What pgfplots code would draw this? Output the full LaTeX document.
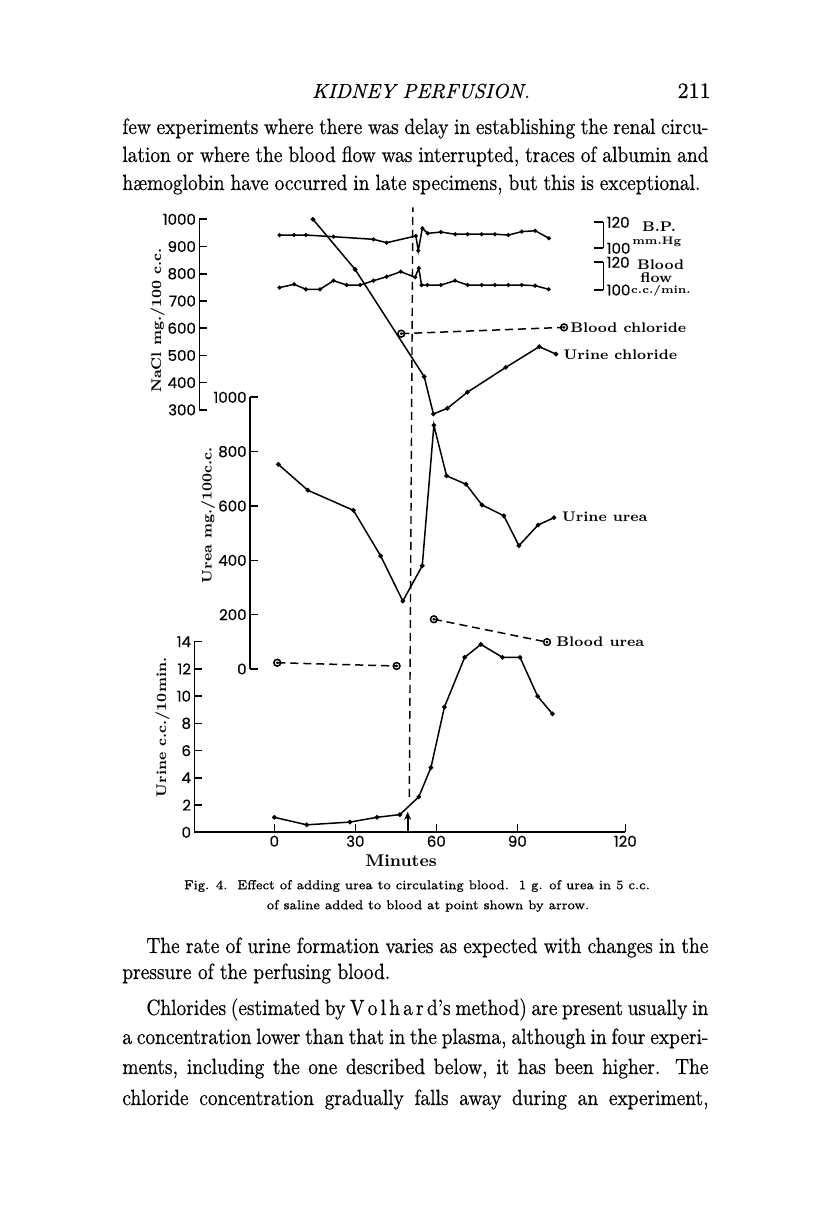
\documentclass[border=0pt]{standalone}
\usepackage{fontspec}
\usepackage{pgfplots}
\pgfplotsset{compat=1.18}
\usetikzlibrary{arrows.meta}
\newfontfamily\tickfont{Poppins}[FakeBold=0.4]
\newfontface\txt{lmroman10-regular.otf}[FakeBold=0.5]
\newfontface\txti{lmroman10-italic.otf}[FakeBold=0.4]
\newfontface\capf{lmroman7-regular.otf}[FakeBold=1]
\newcommand\lab{\bfseries\fontsize{7}{8}\selectfont}
\newcommand\body{\fontsize{11}{13}\selectfont\txt}
\newcommand\fl[2]{\scalebox{0.88}[1]{\makebox[#1][s]{#2}}}
\pgfplotsset{
  pg/.style={scale only axis, clip=false, anchor=south west,
    axis line style={line width=0.8pt},
    tick style={line width=0.8pt, black},
    major tick length=4pt, tick align=inside,
    /pgf/number format/assume math mode=true,
    /pgf/number format/1000 sep={},
    ticklabel style={font=\tickfont\fontsize{7.5}{8}\selectfont, inner sep=1.5pt}},
  yl/.style={hide x axis, axis y line*=left, ytick pos=left, yticklabel pos=left},
  yr/.style={hide x axis, axis y line*=right, ytick pos=right, yticklabel pos=right,
    major tick length=4.5pt, yticklabel style={anchor=west}},
  dat/.style={black, line width=0.75pt, mark=*, mark size=0.75pt},
  bld/.style={black, line width=0.75pt, dash pattern=on 4pt off 2.5pt,
    mark=o, mark size=1.7pt, mark options={solid}},
  ctr/.style={black, only marks, mark=*, mark size=0.45pt},
}
\begin{document}
\begin{tikzpicture}[x=0.5pt,y=0.5pt]
\useasboundingbox[fill=white] (0,0) rectangle (816,1221);

% running head and text above the figure
\node[anchor=base, inner sep=0] at (421,1221-98) {\fontsize{10.2}{12}\selectfont\txti KIDNEY PERFUSION.};
\node[anchor=base east, inner sep=0] at (711,1221-98) {\body 211};
\node[anchor=base west, inner sep=0] at (122,1221-134) {\body\fl{333pt}{few experiments where there was delay in establishing the renal circu-}};
\node[anchor=base west, inner sep=0] at (122,1221-162) {\body\fl{333pt}{lation or where the blood flow was interrupted, traces of albumin and}};
\node[anchor=base west, inner sep=0] at (122,1221-190) {\body\fl{328.4pt}{hæmoglobin have occurred in late specimens, but this is exceptional.}};

% NaCl
\begin{axis}[pg, yl, at={(99.65pt,405.55pt)}, width=213.03pt, height=95.3pt,
  xmin=-27.8, xmax=130, ymin=300, ymax=1000, ytick={300,400,...,1000}]
\addplot[dat] coordinates {(14.3,1000)(29.9,816)(55.5,422)(58.9,285)(64.1,306)
  (71.5,365)(85.7,456)(98.1,532)(104.3,505)};
\addplot[bld] coordinates {(47.0,580)(107.3,603)};
\addplot[ctr] coordinates {(47.0,580)(107.3,603)};
\end{axis}

% blood pressure
\begin{axis}[pg, yr, at={(99.65pt,486.35pt)}, width=202.03pt, height=13pt,
  xmin=-27.8, xmax=121.85, ymin=100, ymax=120, ytick={100,120}]
\addplot[dat, mark size=0.6pt] coordinates {(1.9,110.2)(7.3,110.2)(11.7,110.2)(21.9,108.9)
  (36.7,106.9)(41.6,104.3)(52.4,109.5)(53.3,98.2)(54.8,115.4)(56.8,111.5)(61.7,112.5)
  (67,110.8)(71.6,110.8)(76.8,110.8)(81.7,110.8)(86.7,110.2)(91.6,112.8)(96.6,113.5)(101.7,107.7)};
\end{axis}

% blood flow
\begin{axis}[pg, yr, at={(99.65pt,465.5pt)}, width=202.03pt, height=13.85pt,
  xmin=-27.8, xmax=121.85, ymin=100, ymax=120, ytick={100,120}]
\addplot[dat, mark size=0.6pt] coordinates {(1.9,101.7)(7.3,104.1)(11.7,100.5)(16.9,100.5)
  (21.9,106.7)(26.8,103.6)(31.8,103.6)(36.7,106.7)(41.6,109.6)(46.8,113.2)(52.1,109.2)
  (53.5,115.7)(54.5,103.6)(56.7,103.6)(61.7,103.6)(66.9,106.7)(71.6,103.6)(76.8,103.6)
  (81.7,103.6)(86.7,103.6)(91.6,103.6)(96.6,103.1)(101.6,100.5)};
\end{axis}

% urea
\begin{axis}[pg, yl, at={(125pt,276pt)}, width=187.65pt, height=135.85pt,
  xmin=-9, xmax=130, ymin=0, ymax=1000, ytick={0,200,...,1000}]
\addplot[dat] coordinates {(1.5,753)(12.4,658)(29.3,584)(39.4,416)(47.6,250)(54.8,380)
  (59.1,897)(63.8,711)(71,680)(76.9,604)(85,564)(90.6,454)(97.7,530)(103.6,557)};
\addplot[bld] coordinates {(1.1,23)(45.3,11)};
\addplot[bld] coordinates {(59.1,183)(101,99)};
\addplot[ctr] coordinates {(1.1,23)(45.3,11)(59.1,183)(101,99)};
\end{axis}

% urine flow
\begin{axis}[pg, at={(97.2pt,194.35pt)}, width=215.46pt, height=95.3pt,
  xmin=-29.6, xmax=130, ymin=0, ymax=14,
  axis x line*=bottom, axis y line*=left, xtick pos=left, ytick pos=left,
  xticklabel pos=left, yticklabel pos=left, ytick={0,2,...,14},
  xtick={0,30,60,90,130}, xticklabels={0,30,60,90,120}]
\addplot[dat] coordinates {(0,1.1)(12,0.55)(28,0.75)(38,1.1)(46.5,1.3)(53.5,2.6)(58,4.75)
  (63,9.2)(70.5,12.85)(76.5,13.8)(84.5,12.85)(91,12.85)(97.5,10)(103,8.7)};
\addplot[black, line width=0.7pt, dash pattern=on 4pt off 2.5pt] coordinates {(50.0,2.6)(51.3,45.9)};
\draw[-{Stealth[length=4pt,width=3.5pt]}, line width=0.9pt] (axis cs:49.4,0) -- (axis cs:49.4,1.5);
\end{axis}

% figure labels
\node[anchor=west, inner sep=0] at (570,1221-327.7) {\lab Blood chloride};
\node[anchor=west, inner sep=0] at (563.3,1221-355) {\lab Urine chloride};
\node[anchor=west, inner sep=0] at (561.7,1221-516.7) {\lab Urine urea};
\node[anchor=west, inner sep=0] at (556,1221-642) {\lab Blood urea};
\node[anchor=west, inner sep=0] at (641.7,1221-226.7) {\lab B.P.};
\node[anchor=west, inner sep=0] at (632,1221-241.5) {\bfseries\fontsize{5.5}{6}\selectfont mm.Hg};
\node[anchor=west, inner sep=0] at (636.7,1221-264.3) {\lab Blood};
\node[anchor=west, inner sep=0] at (640,1221-277.3) {\lab flow};
\node[anchor=west, inner sep=0] at (630.7,1221-290.7) {\bfseries\fontsize{5.5}{6}\selectfont c.c./min.};
\node[rotate=90, inner sep=0] at (157.5,1221-320.5) {\lab NaCl mg./100 c.c.};
\node[rotate=90, inner sep=0] at (208,1221-515) {\lab Urea mg./100c.c.};
\node[rotate=90, inner sep=0] at (162.5,1221-727.5) {\lab Urine c.c./10min.};
\node[inner sep=0] at (401,1221-861) {\bfseries\fontsize{8.5}{9}\selectfont Minutes};

% caption
\node[inner sep=0] at (417,1221-886) {\fontsize{6.45}{8}\selectfont\capf Fig. 4.\ \ Effect of adding urea to circulating blood.\ \ 1 g. of urea in 5 c.c.};
\node[inner sep=0] at (428,1221-906) {\fontsize{6.45}{8}\selectfont\capf of saline added to blood at point shown by arrow.};

% text below the figure
\node[anchor=base west, inner sep=0] at (146,1221-953) {\body\fl{319.3pt}{The rate of urine formation varies as expected with changes in the}};
\node[anchor=base west, inner sep=0] at (122,1221-979) {\body\scalebox{0.88}[1]{pressure of the perfusing blood.}};
\node[anchor=base west, inner sep=0] at (146,1221-1015) {\body\fl{319.3pt}{Chlorides (estimated by V\,o\,l\,h\,a\,r\,d’s method) are present usually in}};
\node[anchor=base west, inner sep=0] at (122,1221-1044) {\body\fl{333pt}{a concentration lower than that in the plasma, although in four experi-}};
\node[anchor=base west, inner sep=0] at (122,1221-1074) {\body\fl{333pt}{ments, including the one described below, it has been higher. The}};
\node[anchor=base west, inner sep=0] at (122,1221-1105) {\body\fl{333pt}{chloride concentration gradually falls away during an experiment,}};
\end{tikzpicture}
\end{document}
